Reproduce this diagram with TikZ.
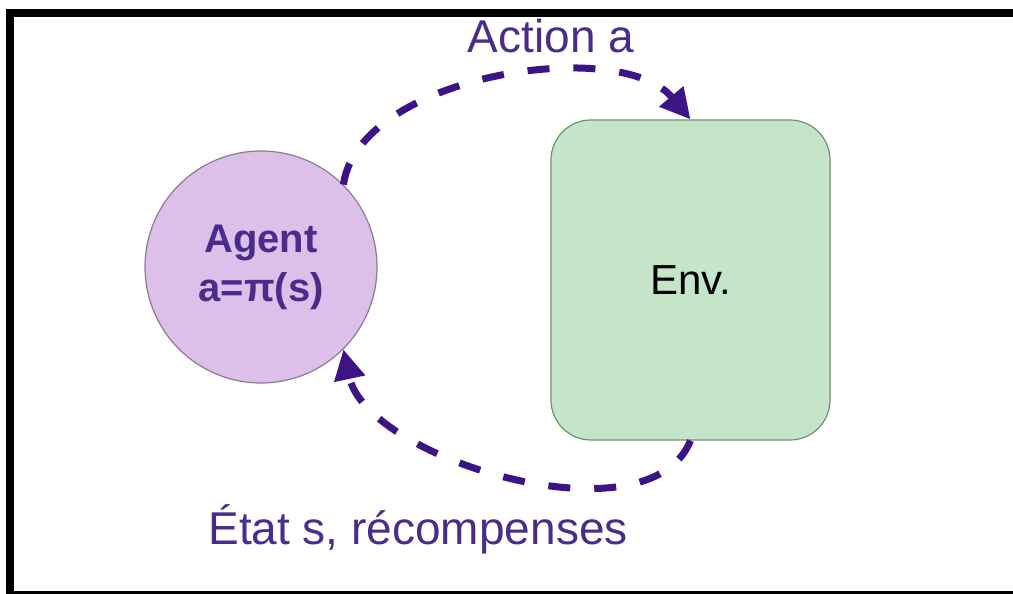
\documentclass[tikz,border=0pt]{standalone}
\usepackage{fontspec}
\setmainfont{Liberation Sans}
\usepackage{tikz}
\usetikzlibrary{arrows.meta}
\definecolor{txtpurple}{HTML}{4A2C8C}
\definecolor{arrpurple}{HTML}{3D1485}
\definecolor{agentfill}{HTML}{DCC0EA}
\definecolor{agentline}{HTML}{8A7A95}
\definecolor{envfill}{HTML}{C4E5C8}
\definecolor{envline}{HTML}{6F8F6F}
\tikzset{
  agentnode/.style={circle,fill=agentfill,draw=agentline,line width=0.6pt,minimum size=116pt,inner sep=0pt,
    text=txtpurple,font=\fontsize{20}{24.5}\selectfont\bfseries,align=center},
  envnode/.style={rectangle,rounded corners=20pt,fill=envfill,draw=envline,line width=0.6pt,
    minimum width=139.5pt,minimum height=160pt,inner sep=0pt,font=\fontsize{21}{25}\selectfont},
  lbl/.style={text=txtpurple,font=\fontsize{23}{27}\selectfont,inner sep=0pt,anchor=base},
  flow/.style={arrpurple,line width=3.5pt,dash pattern=on 11pt off 12pt,-{Triangle[length=15pt,width=15pt]}}
}
\begin{document}
\begin{tikzpicture}[line cap=butt,line join=round,x=0.5pt,y=0.5pt]
\useasboundingbox (0,0) rectangle (1013,594);
\fill[white] (0,0) rectangle (1013,594);
% frame
\fill[black] (6,577) rectangle (1013,585);
\fill[black] (6,0) rectangle (14,585);
\fill[black] (6,0) rectangle (1013,3);
% boxes
\node[agentnode] (agent) at (261,327) {Agent\\a=π(s)};
\node[envnode] (env) at (690.5,314) {Env.};
% labels
\node[lbl] (act) at (551,541) {Action a};
\node[lbl] (etat) at (418,49) {État s, récompenses};
% loop
\draw[flow] (agent.45) to[out=82,in=130,looseness=0.8] (env.north);
\draw[flow] (env.south) to[out=-112,in=-78,looseness=0.8] (agent.-45);
\end{tikzpicture}
\end{document}
